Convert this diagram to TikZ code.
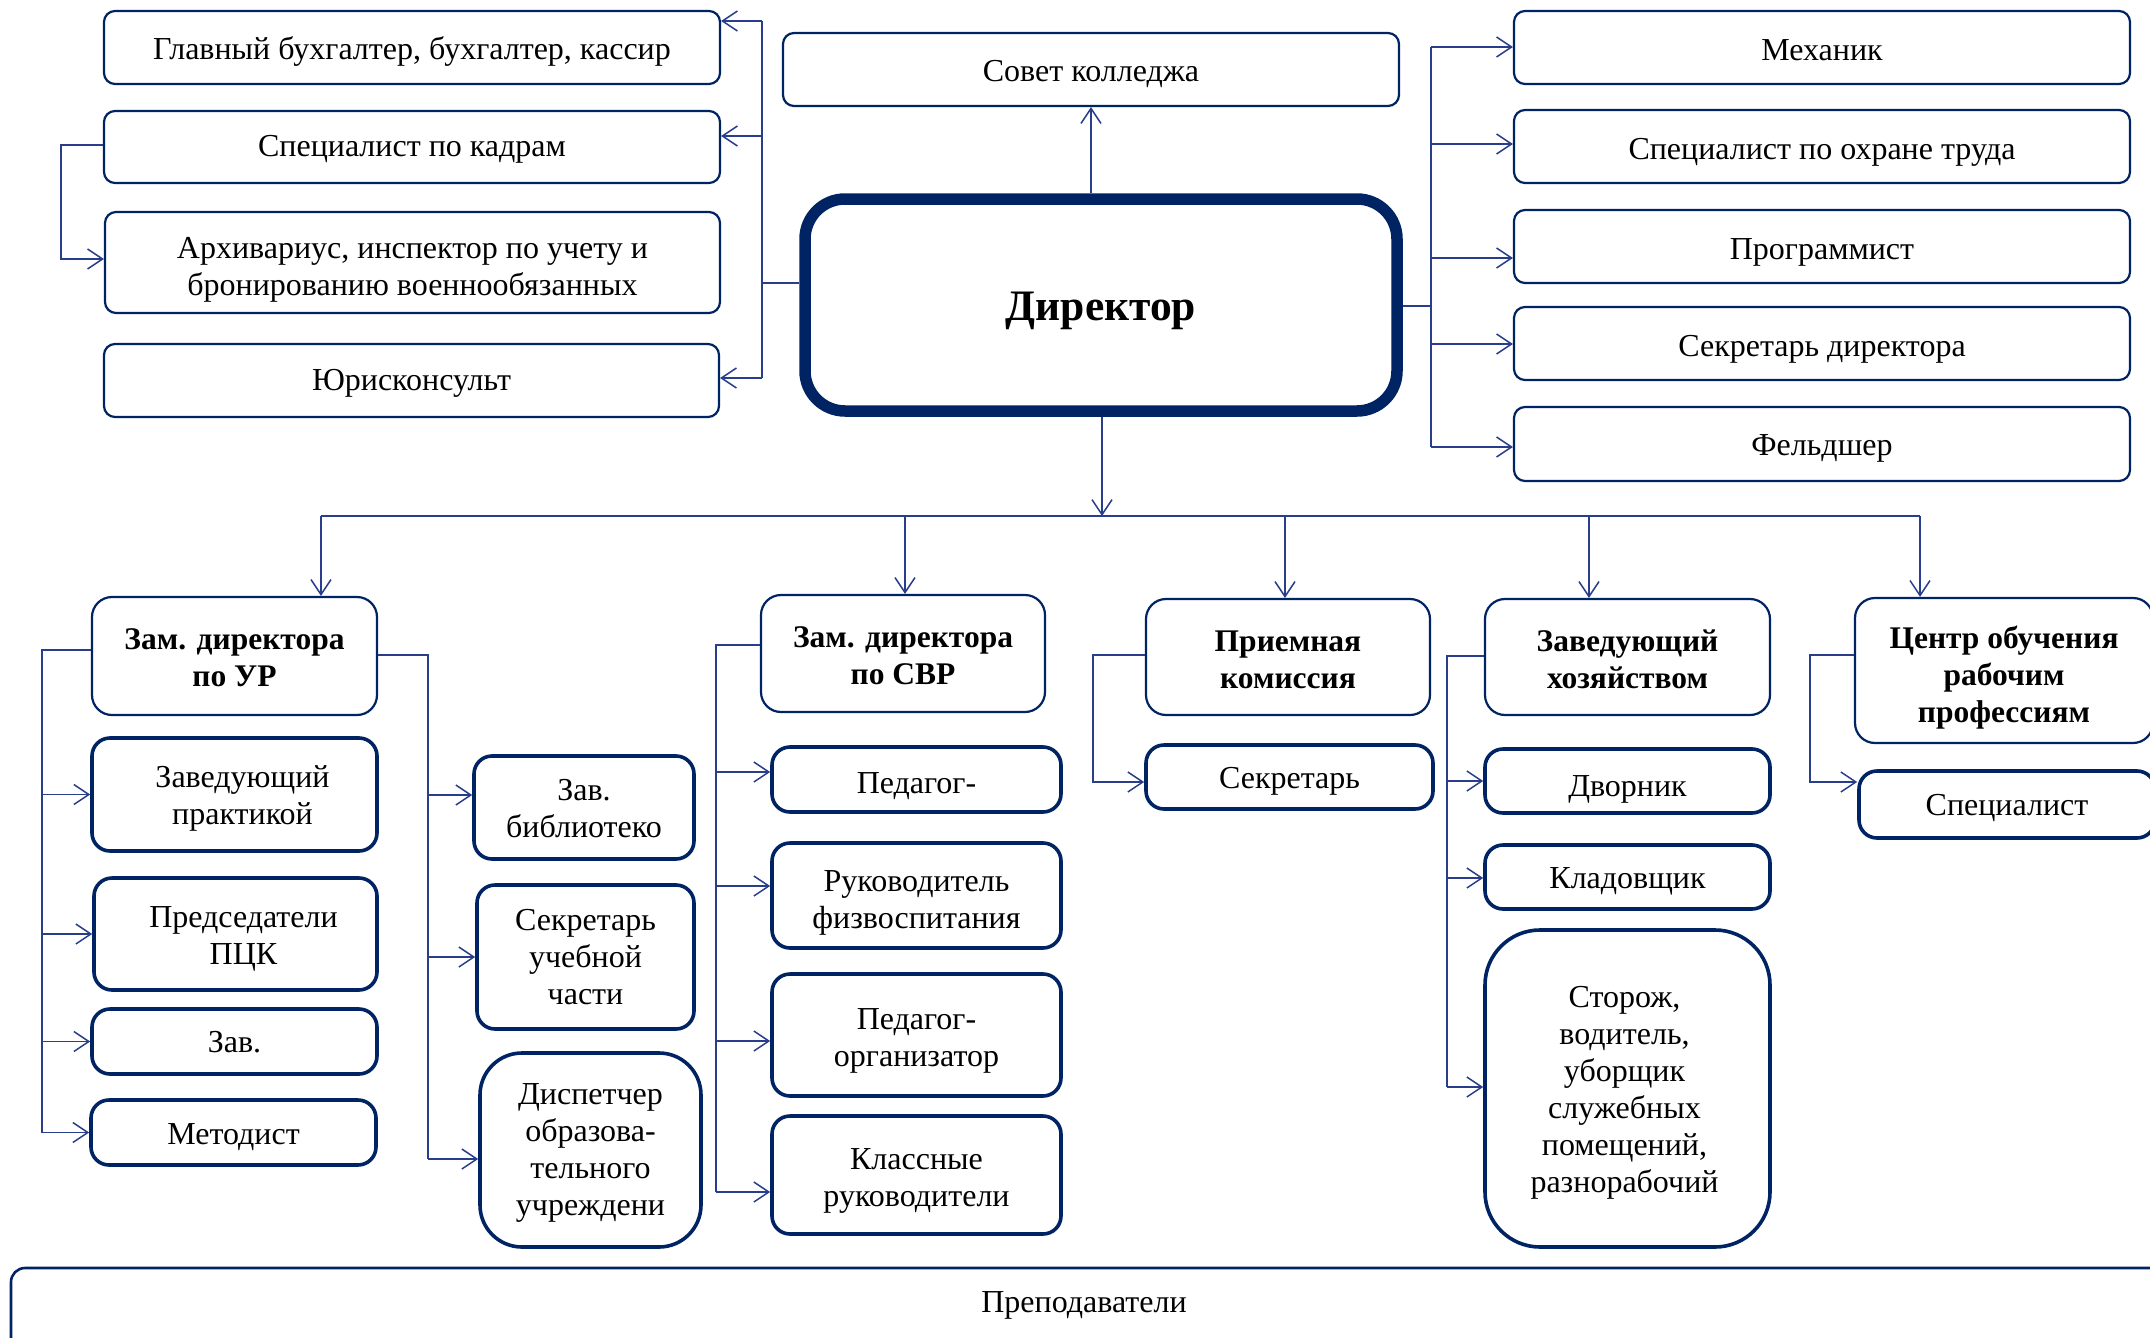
\documentclass[tikz,border=0pt]{standalone}
\usepackage{fontspec}
\setmainfont{Liberation Serif}
\usetikzlibrary{arrows.meta,calc}
\definecolor{navy}{RGB}{0,35,100}
\definecolor{connc}{RGB}{40,62,140}
% text lowered by #1 inside its box, lines centred
\newcommand\tx[2][4.5pt]{\raisebox{-#1}[\height][\depth]{\begin{tabular}{@{}c@{}}#2\end{tabular}}}
\tikzset{
  box/.style={draw=navy, line width=2.2pt, rounded corners=11pt, fill=white, align=center,
    inner sep=2pt, font=\fontsize{32}{37}\selectfont},
  sz/.style 2 args={minimum width=#1pt, minimum height=#2pt},
  tbox/.style={box, line width=3.6pt, rounded corners=18pt},
  hbox/.style={box, rounded corners=20pt, font=\bfseries\fontsize{31.5}{37}\selectfont},
  dirbox/.style={box, line width=11.5pt, rounded corners=40pt, font=\bfseries\fontsize{43.5}{48}\selectfont},
  conn/.style={draw=connc, line width=1.5pt},
  arr/.style={conn, -{Straight Barb[length=15pt,width=20pt,line width=1.5pt]}},
}
\begin{document}
\begin{tikzpicture}[x=1pt,y=-1pt]
\useasboundingbox (0,0) rectangle (2150,1338);
\clip (0,0) rectangle (2150,1338);

% ---------- top left ----------
\node[box, sz={616}{73}]  (a1) at (412,47.5)  {\tx{Главный бухгалтер, бухгалтер, кассир}};
\node[box, sz={616}{72}]  (a2) at (412,147)   {\tx[2pt]{Специалист по кадрам}};
\node[box, sz={615}{101}] (a3) at (412.5,262.5) {\tx[7pt]{Архивариус, инспектор по учету и\\бронированию военнообязанных}};
\node[box, sz={615}{73}]  (a4) at (411.5,380.5) {\tx[3pt]{Юрисконсульт}};

% ---------- centre ----------
\node[box, sz={616}{73}] (sv) at (1091,69.5) {\tx{Совет колледжа}};
\node[dirbox, sz={592}{212}] (d) at (1101,305) {\tx[5.5pt]{Директор}};

% ---------- top right ----------
\node[box, sz={616}{73}] (r1) at (1822,47.5)  {\tx[6pt]{Механик}};
\node[box, sz={616}{73}] (r2) at (1822,146.5) {\tx[5.5pt]{Специалист по охране труда}};
\node[box, sz={616}{73}] (r3) at (1822,246.5) {\tx[5.5pt]{Программист}};
\node[box, sz={616}{73}] (r4) at (1822,343.5) {\tx[5.5pt]{Секретарь директора}};
\node[box, sz={616}{74}] (r5) at (1822,444)   {\tx[4.5pt]{Фельдшер}};

% ---------- heads ----------
\node[hbox, sz={285}{118}] (u) at (234.5,656) {\tx[4.5pt]{Зам. директора\\по УР}};
\node[hbox, sz={284}{117}] (w) at (903,653.5) {\tx[5.5pt]{Зам. директора\\по СВР}};
\node[hbox, sz={284}{116}] (p) at (1288,657) {\tx[6pt]{Приемная\\комиссия}};
\node[hbox, sz={285}{116}] (h) at (1627.5,657) {\tx[5.5pt]{Заведующий\\хозяйством}};
\node[hbox, sz={298}{145}] (c) at (2004,670.5) {\tx[8pt]{Центр обучения\\рабочим\\профессиям}};

% ---------- УР ----------
\node[tbox, sz={285}{113}] (u1) at (234.5,794.5) {\hspace*{16pt}\tx[4pt]{Заведующий\\практикой}};
\node[tbox, sz={283}{112}] (u2) at (235.5,934) {\hspace*{16pt}\tx[5pt]{Председатели\\ПЦК}};
\node[tbox, sz={285}{65}]  (u3) at (234.5,1041.5) {\tx[4pt]{Зав.}};
\node[tbox, sz={285}{65}]  (u4) at (233.5,1132.5) {\tx[5pt]{Методист}};
\node[tbox, sz={220}{103}] (v1) at (584,807.5) {\tx[4pt]{Зав.\\библиотеко}};
\node[tbox, sz={217}{144}] (v2) at (585.5,957) {\tx[3.5pt]{Секретарь\\учебной\\части}};
\node[tbox, sz={221}{194}, rounded corners=42pt] (v3) at (590.5,1150) {\tx[3pt]{Диспетчер\\образова-\\тельного\\учреждени}};

% ---------- СВР ----------
\node[tbox, sz={289}{65}]  (w1) at (916.5,779.5) {\tx[7pt]{Педагог-}};
\node[tbox, sz={289}{105}] (w2) at (916.5,895.5) {\tx[7pt]{Руководитель\\физвоспитания}};
\node[tbox, sz={289}{122}] (w3) at (916.5,1035) {\tx[5.5pt]{Педагог-\\организатор}};
\node[tbox, sz={289}{118}] (w4) at (916.5,1175) {\tx[5.5pt]{Классные\\руководители}};

% ---------- Приемная ----------
\node[tbox, sz={287}{64}] (p1) at (1289.5,777) {\tx[4pt]{Секретарь}};

% ---------- хозяйство ----------
\node[tbox, sz={285}{64}]  (h1) at (1627.5,781) {\tx[8.5pt]{Дворник}};
\node[tbox, sz={285}{64}]  (h2) at (1627.5,877) {\tx[4pt]{Кладовщик}};
\node[tbox, sz={285}{317}, rounded corners=55pt] (h3) at (1627.5,1088.5) {\hspace*{-6pt}\tx[4pt]{Сторож,\\водитель,\\уборщик\\служебных\\помещений,\\разнорабочий}};

% ---------- Центр ----------
\node[tbox, sz={296}{67}] (c1) at (2007,804.5) {\tx[4pt]{Специалист}};

% ---------- bottom ----------
\node[box, line width=2.6pt, rounded corners=14pt, sz={2154}{92}] (t) at (1088,1314) {};
\node[font=\fontsize{32}{37}\selectfont] (tt) at (1084,1305) {Преподаватели};

% ---------- connectors: top left ----------
\coordinate (la1) at (762,21);
\coordinate (la2) at (762,136);
\coordinate (la4) at (762,378);
\coordinate (lad) at (762,283);
\draw[conn] (la1) -- (la4);
\draw[conn] (lad) -- (lad -| d.west);
\draw[arr] (la1) -- (la1 -| a1.east);
\draw[arr] (la2) -- (la2 -| a2.east);
\draw[arr] (la4) -- (la4 -| a4.east);
\coordinate (k1) at (61,145);
\coordinate (k2) at (61,259);
\draw[arr] (k1 -| a2.west) -- (k1) -- (k2) -- (k2 -| a3.west);

% Совет
\draw[arr] (d.north -| sv.south) -- (sv.south);

% ---------- connectors: top right ----------
\coordinate (rb1) at (1431,47);
\coordinate (rb2) at (1431,144);
\coordinate (rb3) at (1431,258);
\coordinate (rb4) at (1431,344);
\coordinate (rb5) at (1431,447);
\coordinate (rbd) at (1431,306);
\draw[conn] (rb1) -- (rb5);
\draw[conn] (rbd -| d.east) -- (rbd);
\draw[arr] (rb1) -- (rb1 -| r1.west);
\draw[arr] (rb2) -- (rb2 -| r2.west);
\draw[arr] (rb3) -- (rb3 -| r3.west);
\draw[arr] (rb4) -- (rb4 -| r4.west);
\draw[arr] (rb5) -- (rb5 -| r5.west);

% ---------- main bus ----------
\coordinate (bd) at (1102,516);
\coordinate (b1) at (321,516);
\coordinate (b2) at (905,516);
\coordinate (b3) at (1285,516);
\coordinate (b4) at (1589,516);
\coordinate (b5) at (1920,516);
\draw[arr] (bd |- d.south) -- (bd);
\draw[conn] (b1) -- (b5);
\draw[arr] (b1) -- (b1 |- u.north);
\draw[arr] (b2) -- (b2 |- w.north);
\draw[arr] (b3) -- (b3 |- p.north);
\draw[arr] (b4) -- (b4 |- h.north);
\draw[arr] (b5) -- (b5 |- c.north);

% ---------- УР ----------
\coordinate (ul0) at (42,650);
\draw[conn] (ul0 -| u.west) -- (ul0) -- (ul0 |- u4.west);
\draw[arr] (ul0 |- u1.west) -- (u1.west);
\draw[arr] (ul0 |- u2.west) -- (u2.west);
\draw[arr] (ul0 |- u3.west) -- (u3.west);
\draw[arr] (ul0 |- u4.west) -- (u4.west);
\coordinate (ur0) at (428,655);
\coordinate (ur1) at (428,795);
\coordinate (ur2) at (428,957);
\coordinate (ur3) at (428,1159);
\draw[conn] (ur0 -| u.east) -- (ur0) -- (ur3);
\draw[arr] (ur1) -- (ur1 -| v1.west);
\draw[arr] (ur2) -- (ur2 -| v2.west);
\draw[arr] (ur3) -- (ur3 -| v3.west);

% ---------- СВР ----------
\coordinate (wl0) at (716,645);
\coordinate (wl1) at (716,772);
\coordinate (wl2) at (716,886);
\coordinate (wl3) at (716,1041);
\coordinate (wl4) at (716,1192);
\draw[conn] (wl0 -| w.west) -- (wl0) -- (wl4);
\draw[arr] (wl1) -- (wl1 -| w1.west);
\draw[arr] (wl2) -- (wl2 -| w2.west);
\draw[arr] (wl3) -- (wl3 -| w3.west);
\draw[arr] (wl4) -- (wl4 -| w4.west);

% ---------- Приемная ----------
\coordinate (pl0) at (1093,655);
\coordinate (pl1) at (1093,782);
\draw[arr] (pl0 -| p.west) -- (pl0) -- (pl1) -- (pl1 -| p1.west);

% ---------- хозяйство ----------
\coordinate (hl0) at (1447,656);
\coordinate (hl1) at (1447,781);
\coordinate (hl2) at (1447,878);
\coordinate (hl3) at (1447,1087);
\draw[conn] (hl0 -| h.west) -- (hl0) -- (hl3);
\draw[arr] (hl1) -- (hl1 -| h1.west);
\draw[arr] (hl2) -- (hl2 -| h2.west);
\draw[arr] (hl3) -- (hl3 -| h3.west);

% ---------- Центр ----------
\coordinate (cl0) at (1810,655);
\coordinate (cl1) at (1810,782);
\draw[arr] (cl0 -| c.west) -- (cl0) -- (cl1) -- (cl1 -| c1.west);
\end{tikzpicture}
\end{document}
